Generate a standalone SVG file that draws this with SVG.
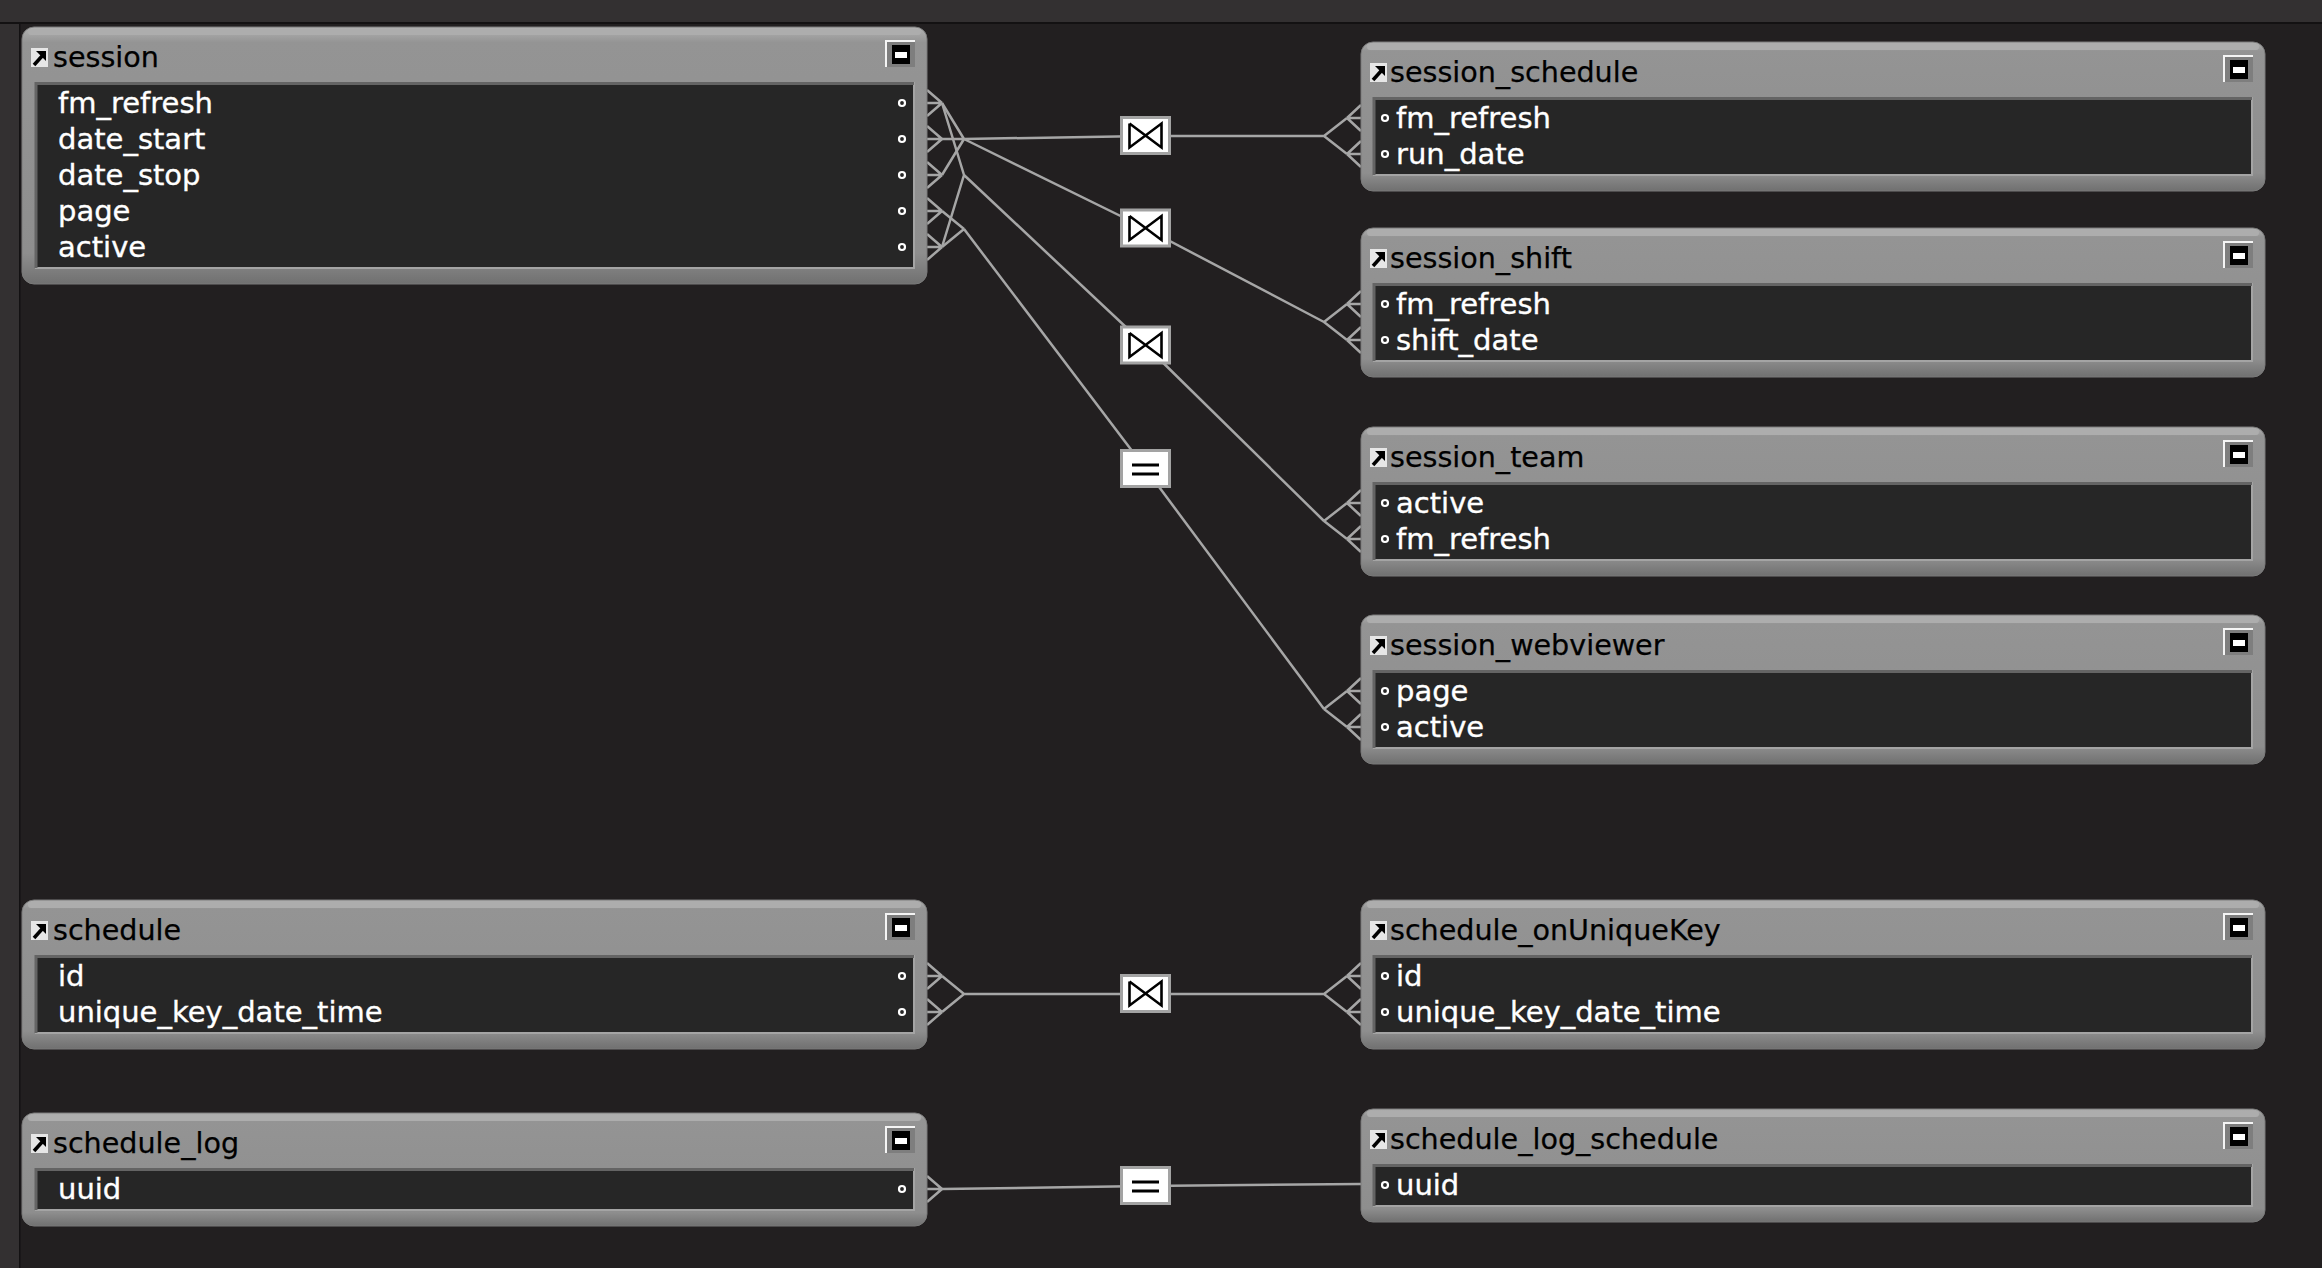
<svg xmlns="http://www.w3.org/2000/svg" width="2322" height="1268" viewBox="0 0 2322 1268">
<style>
.frame{fill:url(#gFrame);stroke:#7a7a7a;stroke-width:1}
.hl{fill:#adadad}
.inner{fill:#262626}
.bevD{fill:none;stroke:#646464;stroke-width:3}
.bevL{fill:none;stroke:#a4a4a4;stroke-width:2}
.title{font-family:"DejaVu Sans","Liberation Sans",sans-serif;font-size:28.6px;fill:#000;stroke:#000;stroke-width:0.25}
.field{font-family:"DejaVu Sans","Liberation Sans",sans-serif;font-size:29px;fill:#fff;stroke:#fff;stroke-width:0.35}
.dot{fill:none;stroke:#fff;stroke-width:2.2}
.rel{fill:none;stroke:#a6a6a6;stroke-width:2.5;stroke-linejoin:round}
.jbox{fill:#fff;stroke:#a3a3a3;stroke-width:3}
.jsym{fill:none;stroke:#000;stroke-width:2.6}
.eq{fill:#000}
</style>
<defs>
<linearGradient id="gFrame" x1="0" y1="0" x2="0" y2="1">
<stop offset="0" stop-color="#b2b2b2"/>
<stop offset="0.06" stop-color="#949494"/>
<stop offset="0.88" stop-color="#8e8e8e"/>
<stop offset="1" stop-color="#707070"/>
</linearGradient>
<g id="icon">
<rect x="0" y="0" width="17" height="19" fill="#e6e6e6"/>
<path d="M3,17 L12,7" stroke="#000" stroke-width="3.5" fill="none"/>
<path d="M5,3 L15,3 L15,13 Z" fill="#000"/>
</g>
<g id="btn">
<rect x="0" y="0" width="29" height="26" fill="#7e7e7e"/>
<path d="M0,26 V0 H29" fill="none" stroke="#f4f4f4" stroke-width="2"/>
<rect x="6" y="4" width="18" height="19" fill="#000"/>
<rect x="9" y="11" width="12" height="6" fill="#fff"/>
</g>
<path id="crowL" d="M0,0 L-15,-13 M0,0 L-15,0 M0,0 L-15,13" class="rel"/>
<path id="crowR" d="M0,0 L14,-13 M0,0 L14,0 M0,0 L14,13" class="rel"/>
</defs>

<rect x="0" y="0" width="2322" height="1268" fill="#221f20"/>
<rect x="0" y="0" width="2322" height="22" fill="#333031"/>
<rect x="0" y="22" width="2322" height="2" fill="#131112"/>
<rect x="0" y="24" width="19" height="1244" fill="#333031"/>
<rect x="19" y="24" width="1.5" height="1244" fill="#131112"/>

<g id="connectors">
<path class="rel" d="M942,103 L964,139 M942,139 L964,139 M942,175 L964,139 M964,139 L1145,136 L1324,136 M1324,136 L1347,118 M1324,136 L1347,154"/>
<path class="rel" d="M964,139 L1145,228 L1324,322 M1324,322 L1347,304 M1324,322 L1347,340"/>
<path class="rel" d="M942,103 L964,175 M942,247 L964,175 M964,175 L1145,345 L1324,521 M1324,521 L1347,503 M1324,521 L1347,539"/>
<path class="rel" d="M942,211 L964,229 M942,247 L964,229 M964,229 L1145,468 L1324,709 M1324,709 L1347,691 M1324,709 L1347,727"/>
<path class="rel" d="M942,976 L964,994 M942,1012 L964,994 M964,994 L1145,994 L1324,994 M1324,994 L1347,976 M1324,994 L1347,1012"/>
<path class="rel" d="M942,1189 L1145,1186 L1361,1184"/>
<use href="#crowL" x="942" y="103"/>
<use href="#crowL" x="942" y="139"/>
<use href="#crowL" x="942" y="175"/>
<use href="#crowL" x="942" y="211"/>
<use href="#crowL" x="942" y="247"/>
<use href="#crowL" x="942" y="976"/>
<use href="#crowL" x="942" y="1012"/>
<use href="#crowL" x="942" y="1189"/>
<use href="#crowR" x="1347" y="118"/>
<use href="#crowR" x="1347" y="154"/>
<use href="#crowR" x="1347" y="304"/>
<use href="#crowR" x="1347" y="340"/>
<use href="#crowR" x="1347" y="503"/>
<use href="#crowR" x="1347" y="539"/>
<use href="#crowR" x="1347" y="691"/>
<use href="#crowR" x="1347" y="727"/>
<use href="#crowR" x="1347" y="976"/>
<use href="#crowR" x="1347" y="1012"/>
<g transform="translate(1145.5,135.5)"><rect class="jbox" x="-24" y="-18" width="48" height="36"/><path class="jsym" d="M-16,-12 V12 L16,-12 V12 L-16,-12"/></g>
<g transform="translate(1145.5,228)"><rect class="jbox" x="-24" y="-18" width="48" height="36"/><path class="jsym" d="M-16,-12 V12 L16,-12 V12 L-16,-12"/></g>
<g transform="translate(1145.5,345)"><rect class="jbox" x="-24" y="-18" width="48" height="36"/><path class="jsym" d="M-16,-12 V12 L16,-12 V12 L-16,-12"/></g>
<g transform="translate(1145.5,468.5)"><rect class="jbox" x="-24" y="-18" width="48" height="36"/><rect class="eq" x="-13.5" y="-5" width="27" height="3"/><rect class="eq" x="-13.5" y="4" width="27" height="3"/></g>
<g transform="translate(1145.5,993.5)"><rect class="jbox" x="-24" y="-18" width="48" height="36"/><path class="jsym" d="M-16,-12 V12 L16,-12 V12 L-16,-12"/></g>
<g transform="translate(1145.5,1185.5)"><rect class="jbox" x="-24" y="-18" width="48" height="36"/><rect class="eq" x="-13.5" y="-5" width="27" height="3"/><rect class="eq" x="-13.5" y="4" width="27" height="3"/></g>
</g>

<g id="session" transform="translate(22,27)">
<rect class="frame" x="0" y="0" width="905" height="257" rx="12"/>
<rect class="hl" x="6" y="2" width="893" height="6" rx="3"/>
<rect class="inner" x="13" y="55" width="879" height="186"/>
<path class="bevL" d="M13,241 H892 V55"/>
<path class="bevD" d="M14,241 V56.5 H892"/>
<use href="#icon" x="9" y="21"/>
<text class="title" x="31" y="40">session</text>
<use href="#btn" x="864" y="14"/>
<text class="field" x="36" y="86">fm_refresh</text>
<text class="field" x="36" y="122">date_start</text>
<text class="field" x="36" y="158">date_stop</text>
<text class="field" x="36" y="194">page</text>
<text class="field" x="36" y="230">active</text>
<circle class="dot" cx="880" cy="76" r="3"/>
<circle class="dot" cx="880" cy="112" r="3"/>
<circle class="dot" cx="880" cy="148" r="3"/>
<circle class="dot" cx="880" cy="184" r="3"/>
<circle class="dot" cx="880" cy="220" r="3"/>
</g>

<g id="schedule" transform="translate(22,900)">
<rect class="frame" x="0" y="0" width="905" height="149" rx="12"/>
<rect class="hl" x="6" y="2" width="893" height="6" rx="3"/>
<rect class="inner" x="13" y="55" width="879" height="78"/>
<path class="bevL" d="M13,133 H892 V55"/>
<path class="bevD" d="M14,133 V56.5 H892"/>
<use href="#icon" x="9" y="21"/>
<text class="title" x="31" y="40">schedule</text>
<use href="#btn" x="864" y="14"/>
<text class="field" x="36" y="86">id</text>
<text class="field" x="36" y="122">unique_key_date_time</text>
<circle class="dot" cx="880" cy="76" r="3"/>
<circle class="dot" cx="880" cy="112" r="3"/>
</g>

<g id="schedule_log" transform="translate(22,1113)">
<rect class="frame" x="0" y="0" width="905" height="113" rx="12"/>
<rect class="hl" x="6" y="2" width="893" height="6" rx="3"/>
<rect class="inner" x="13" y="55" width="879" height="42"/>
<path class="bevL" d="M13,97 H892 V55"/>
<path class="bevD" d="M14,97 V56.5 H892"/>
<use href="#icon" x="9" y="21"/>
<text class="title" x="31" y="40">schedule_log</text>
<use href="#btn" x="864" y="14"/>
<text class="field" x="36" y="86">uuid</text>
<circle class="dot" cx="880" cy="76" r="3"/>
</g>

<g id="session_schedule" transform="translate(1361,42)">
<rect class="frame" x="0" y="0" width="904" height="149" rx="12"/>
<rect class="hl" x="6" y="2" width="892" height="6" rx="3"/>
<rect class="inner" x="12" y="55" width="879" height="78"/>
<path class="bevL" d="M12,133 H891 V55"/>
<path class="bevD" d="M13,133 V56.5 H891"/>
<use href="#icon" x="9" y="21"/>
<text class="title" x="29" y="40">session_schedule</text>
<use href="#btn" x="863" y="14"/>
<circle class="dot" cx="24" cy="76" r="3"/>
<circle class="dot" cx="24" cy="112" r="3"/>
<text class="field" x="35" y="86">fm_refresh</text>
<text class="field" x="35" y="122">run_date</text>
</g>

<g id="session_shift" transform="translate(1361,228)">
<rect class="frame" x="0" y="0" width="904" height="149" rx="12"/>
<rect class="hl" x="6" y="2" width="892" height="6" rx="3"/>
<rect class="inner" x="12" y="55" width="879" height="78"/>
<path class="bevL" d="M12,133 H891 V55"/>
<path class="bevD" d="M13,133 V56.5 H891"/>
<use href="#icon" x="9" y="21"/>
<text class="title" x="29" y="40">session_shift</text>
<use href="#btn" x="863" y="14"/>
<circle class="dot" cx="24" cy="76" r="3"/>
<circle class="dot" cx="24" cy="112" r="3"/>
<text class="field" x="35" y="86">fm_refresh</text>
<text class="field" x="35" y="122">shift_date</text>
</g>

<g id="session_team" transform="translate(1361,427)">
<rect class="frame" x="0" y="0" width="904" height="149" rx="12"/>
<rect class="hl" x="6" y="2" width="892" height="6" rx="3"/>
<rect class="inner" x="12" y="55" width="879" height="78"/>
<path class="bevL" d="M12,133 H891 V55"/>
<path class="bevD" d="M13,133 V56.5 H891"/>
<use href="#icon" x="9" y="21"/>
<text class="title" x="29" y="40">session_team</text>
<use href="#btn" x="863" y="14"/>
<circle class="dot" cx="24" cy="76" r="3"/>
<circle class="dot" cx="24" cy="112" r="3"/>
<text class="field" x="35" y="86">active</text>
<text class="field" x="35" y="122">fm_refresh</text>
</g>

<g id="session_webviewer" transform="translate(1361,615)">
<rect class="frame" x="0" y="0" width="904" height="149" rx="12"/>
<rect class="hl" x="6" y="2" width="892" height="6" rx="3"/>
<rect class="inner" x="12" y="55" width="879" height="78"/>
<path class="bevL" d="M12,133 H891 V55"/>
<path class="bevD" d="M13,133 V56.5 H891"/>
<use href="#icon" x="9" y="21"/>
<text class="title" x="29" y="40">session_webviewer</text>
<use href="#btn" x="863" y="14"/>
<circle class="dot" cx="24" cy="76" r="3"/>
<circle class="dot" cx="24" cy="112" r="3"/>
<text class="field" x="35" y="86">page</text>
<text class="field" x="35" y="122">active</text>
</g>

<g id="schedule_onUniqueKey" transform="translate(1361,900)">
<rect class="frame" x="0" y="0" width="904" height="149" rx="12"/>
<rect class="hl" x="6" y="2" width="892" height="6" rx="3"/>
<rect class="inner" x="12" y="55" width="879" height="78"/>
<path class="bevL" d="M12,133 H891 V55"/>
<path class="bevD" d="M13,133 V56.5 H891"/>
<use href="#icon" x="9" y="21"/>
<text class="title" x="29" y="40">schedule_onUniqueKey</text>
<use href="#btn" x="863" y="14"/>
<circle class="dot" cx="24" cy="76" r="3"/>
<circle class="dot" cx="24" cy="112" r="3"/>
<text class="field" x="35" y="86">id</text>
<text class="field" x="35" y="122">unique_key_date_time</text>
</g>

<g id="schedule_log_schedule" transform="translate(1361,1109)">
<rect class="frame" x="0" y="0" width="904" height="113" rx="12"/>
<rect class="hl" x="6" y="2" width="892" height="6" rx="3"/>
<rect class="inner" x="12" y="55" width="879" height="42"/>
<path class="bevL" d="M12,97 H891 V55"/>
<path class="bevD" d="M13,97 V56.5 H891"/>
<use href="#icon" x="9" y="21"/>
<text class="title" x="29" y="40">schedule_log_schedule</text>
<use href="#btn" x="863" y="14"/>
<circle class="dot" cx="24" cy="76" r="3"/>
<text class="field" x="35" y="86">uuid</text>
</g>
</svg>
